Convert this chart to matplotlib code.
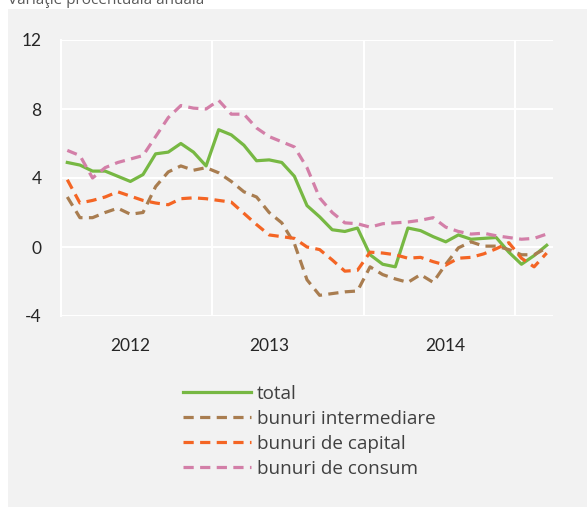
import matplotlib.pyplot as plt
import matplotlib.patches as mpatches
import numpy as np

plt.rcParams['axes.unicode_minus'] = False

# Date: variatie procentuala anuala, serii lunare (39 luni)
total = [4.9, 4.75, 4.4, 4.4, 4.1, 3.8, 4.2, 5.4, 5.5, 6.0, 5.5, 4.7, 6.8,
         6.5, 5.9, 5.0, 5.05, 4.9, 4.1, 2.4, 1.75, 1.0, 0.9, 1.1, -0.45, -1.0,
         -1.15, 1.1, 0.95, 0.6, 0.3, 0.7, 0.45, 0.5, 0.55, -0.3, -1.0, -0.5, 0.1]
intermediare = [2.9, 1.7, 1.7, 2.0, 2.25, 1.9, 2.0, 3.5, 4.35, 4.7, 4.45, 4.6, 4.3,
                3.8, 3.2, 2.9, 2.0, 1.4, 0.2, -1.9, -2.8, -2.7, -2.6, -2.55, -1.15, -1.6,
                -1.85, -2.05, -1.6, -2.05, -1.0, -0.05, 0.3, 0.05, 0.05, -0.15, -0.45, -0.45, -0.05]
capital = [3.9, 2.55, 2.7, 2.9, 3.2, 2.95, 2.7, 2.55, 2.45, 2.8, 2.85, 2.8, 2.7,
           2.6, 1.95, 1.3, 0.7, 0.6, 0.5, 0.0, -0.15, -0.75, -1.4, -1.35, -0.3, -0.35,
           -0.45, -0.65, -0.6, -0.85, -1.05, -0.65, -0.6, -0.4, -0.1, 0.25, -0.65, -1.15, -0.35]
consum = [5.6, 5.3, 4.0, 4.6, 4.9, 5.1, 5.3, 6.4, 7.5, 8.2, 8.05, 8.0, 8.5,
          7.7, 7.7, 6.9, 6.4, 6.1, 5.8, 4.6, 2.85, 2.0, 1.4, 1.35, 1.15, 1.35,
          1.4, 1.45, 1.55, 1.7, 1.15, 0.9, 0.75, 0.8, 0.65, 0.55, 0.45, 0.5, 0.75]

ani = ['2012', '2013', '2014']
pozitii_ani = [5.5, 16.5, 30.5]
y_ticks = [-4, 0, 4, 8, 12]

x = np.arange(len(total)) + 0.5

fig = plt.figure(figsize=(5.87, 5.07), dpi=100)

# fundal gri (sub axe)
fig.patches.append(mpatches.Rectangle((8 / 587, 0), 1, 1 - 9 / 507, transform=fig.transFigure,
                                      facecolor='#f2f2f2', edgecolor='none', zorder=-5))

fig.text(8 / 587, 1 - 4 / 507, 'Variaţie procentuală anuală', fontsize=11, color='#595959',
         family=['Open Sans', 'DejaVu Sans'], va='baseline', ha='left')

ax = fig.add_axes([61 / 587, 1 - 316 / 507, 492 / 587, 276 / 507])
ax.set_facecolor('#f2f2f2')

ax.plot(x, total, color='#77b843', linewidth=2.3, label='total', solid_joinstyle='round')
ax.plot(x, intermediare, color='#a97d50', linewidth=2.3, dashes=(3.2, 2), label='bunuri intermediare')
ax.plot(x, capital, color='#f46524', linewidth=2.3, dashes=(3.2, 2), label='bunuri de capital')
ax.plot(x, consum, color='#d37fa8', linewidth=2.3, dashes=(3.2, 2), label='bunuri de consum')

ax.set_xlim(0, 39)
ax.set_ylim(-4, 12)
ax.set_yticks(y_ticks)
ax.set_xticks(pozitii_ani)
ax.set_xticklabels(ani)
ax.set_xticks([12, 24, 36], minor=True)

ax.grid(True, which='major', axis='y', color='white', linewidth=1.5)
ax.grid(True, which='minor', axis='x', color='white', linewidth=1.5)
ax.set_axisbelow(True)

for s in ['top', 'right', 'bottom']:
    ax.spines[s].set_visible(False)
ax.spines['left'].set_color('white')
ax.spines['left'].set_linewidth(1.5)

ax.tick_params(axis='both', which='both', length=0)
ax.tick_params(axis='y', pad=14)
ax.tick_params(axis='x', pad=16)
for lbl in ax.get_xticklabels() + ax.get_yticklabels():
    lbl.set_family(['Lato', 'DejaVu Sans'])
    lbl.set_fontsize(12.5)
    lbl.set_color('#262626')

leg = fig.legend(loc='upper left', bbox_to_anchor=(183 / 587, 1 - 385 / 507), frameon=False,
                 handlelength=3.6, handletextpad=0.3, labelspacing=0.37, borderpad=0,
                 borderaxespad=0, prop={'family': ['Open Sans', 'DejaVu Sans'], 'size': 13.6})
for t in leg.get_texts():
    t.set_color('#404040')

plt.savefig('out.png', dpi=100)
